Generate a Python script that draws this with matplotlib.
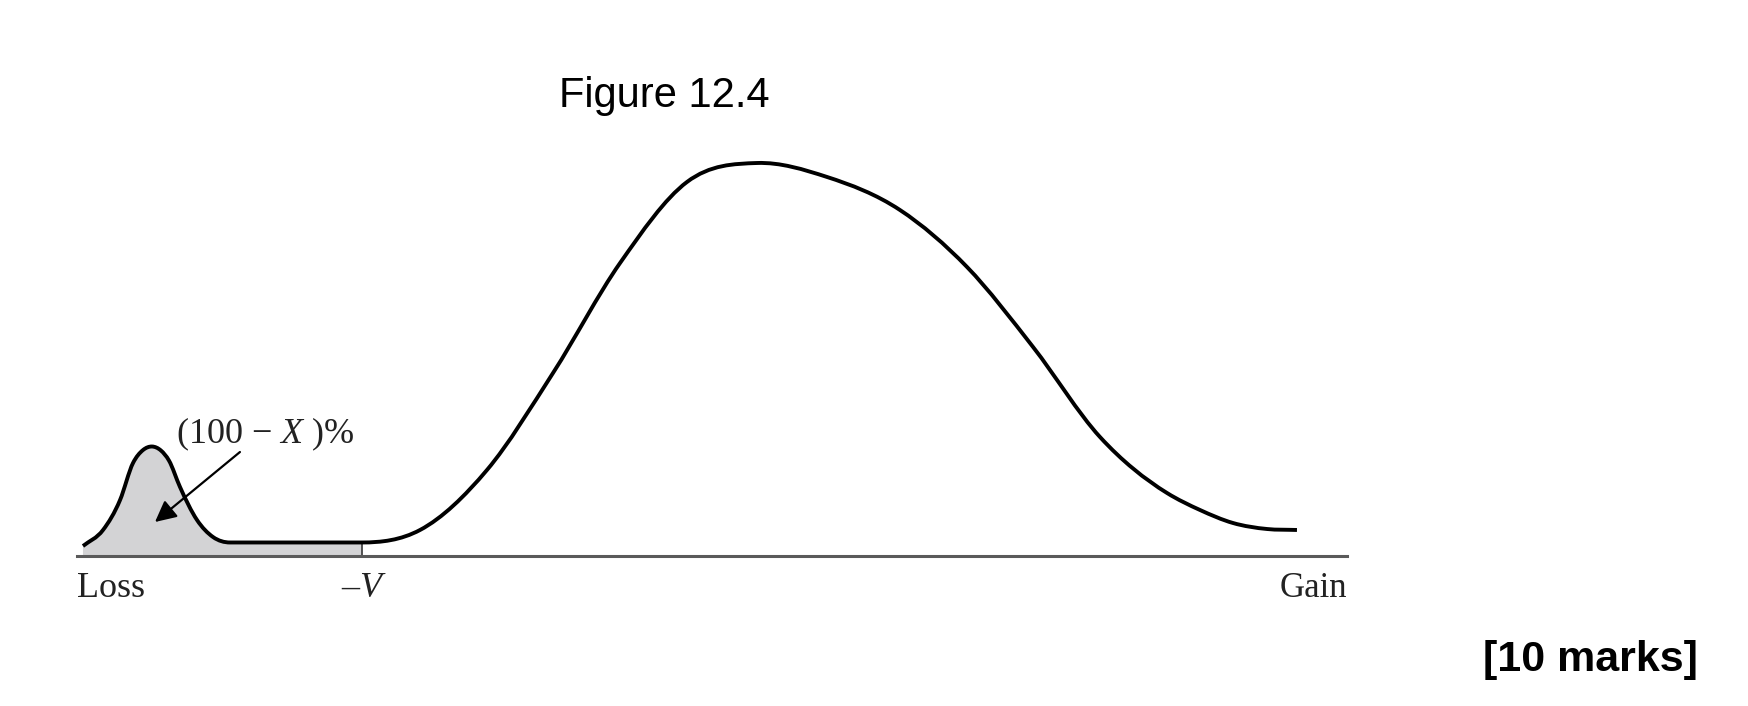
import matplotlib
matplotlib.use("Agg")
import matplotlib.pyplot as plt
from matplotlib.path import Path
from matplotlib.patches import PathPatch

plt.rcParams['mathtext.fontset'] = 'custom'
plt.rcParams['mathtext.rm'] = 'Liberation Serif'
plt.rcParams['mathtext.it'] = 'Liberation Serif:italic'

# Outcome axis (0 = far loss, 100 = far gain) and density (peak = 100)
outcome = [0.47, 2.05, 3.39, 4.41, 5.20, 5.91, 6.61, 7.24, 8.11, 9.45, 10.71, 12.05,
           15.20, 19.92, 22.44, 27.01, 32.28, 37.48, 42.76, 48.03, 53.54,
           59.06, 64.80, 70.08, 75.28, 80.55, 85.83, 88.43, 91.02, 93.70, 96.06]
density = [2.54, 6.62, 14.25, 23.66, 26.97, 27.86, 26.84, 24.30, 17.56, 9.16, 4.83, 3.44,
           3.44, 3.44, 3.44, 6.62, 21.88, 46.56, 74.55, 95.17, 100.0,
           96.44, 88.04, 73.54, 53.18, 30.28, 16.03, 11.70, 8.40, 6.87, 6.62]
var_level = 22.44          # position of -V on the outcome axis
tail_label = "(100 \u2212 $X$ )%"
axis_labels = ["Loss", "\u2013$V$", "Gain"]
title = "Figure 12.4"
marks = "[10 marks]"


def smooth_path(xs, ys):
    """Bezier path through the read points (cubic Hermite, 3-point tangents)."""
    n = len(xs)
    h = [xs[i + 1] - xs[i] for i in range(n - 1)]
    d = [(ys[i + 1] - ys[i]) / h[i] for i in range(n - 1)]
    m = [0.0] * n
    m[0], m[-1] = d[0], d[-1]
    for i in range(1, n - 1):
        if d[i - 1] == 0 or d[i] == 0:
            m[i] = 0.0
        else:
            m[i] = (h[i - 1] * d[i] + h[i] * d[i - 1]) / (h[i - 1] + h[i])
    verts = [(xs[0], ys[0])]
    codes = [Path.MOVETO]
    for i in range(n - 1):
        verts += [(xs[i] + h[i] / 3, ys[i] + m[i] * h[i] / 3),
                  (xs[i + 1] - h[i] / 3, ys[i + 1] - m[i + 1] * h[i] / 3),
                  (xs[i + 1], ys[i + 1])]
        codes += [Path.CURVE4] * 3
    return verts, codes


W, H = 1749, 706
fig = plt.figure(figsize=(W / 100, H / 100), dpi=100)
ax = fig.add_axes([77 / W, (H - 556) / H, (1347 - 77) / W, (556 - 163) / H])
ax.set_xlim(0, 100)
ax.set_ylim(0, 100)

# shaded tail left of -V
tail_x = [x for x in outcome if x <= var_level]
tail_y = [y for x, y in zip(outcome, density) if x <= var_level]
tv, tc = smooth_path(tail_x, tail_y)
tv = tv + [(tail_x[-1], 0), (tail_x[0], 0), tv[0]]
tc = tc + [Path.LINETO, Path.LINETO, Path.CLOSEPOLY]
ax.add_patch(PathPatch(Path(tv, tc), facecolor='#d3d3d5', edgecolor='none', zorder=1))
ax.vlines(var_level, 0, tail_y[-1], color='#444444', lw=1.3, zorder=2)

cv, cc = smooth_path(outcome, density)
ax.add_patch(PathPatch(Path(cv, cc), facecolor='none', edgecolor='black', lw=2.8,
                       capstyle='butt', joinstyle='round', zorder=3, clip_on=False))

for s in ['top', 'right', 'left']:
    ax.spines[s].set_visible(False)
ax.spines['bottom'].set_color('#5a5a5a')
ax.spines['bottom'].set_linewidth(2.2)
ax.set_xticks([])
ax.set_yticks([])
ax.patch.set_alpha(0)

serif = 'Liberation Serif'
ax.text(7.8, 28.75, tail_label, ha='left', va='baseline', fontsize=26,
        family=serif, color='#222222')
ax.annotate('', xy=(6.14, 8.65), xytext=(12.83, 26.46),
            arrowprops=dict(arrowstyle='-|>', color='black', lw=1.6,
                            mutation_scale=32, shrinkA=0, shrinkB=0))

ax.text(0, -10.43, axis_labels[0], ha='left', va='baseline', fontsize=26,
        family=serif, color='#222222', clip_on=False)
ax.text(22.6, -10.43, axis_labels[1], ha='center', va='baseline', fontsize=26,
        family=serif, color='#222222', clip_on=False)
ax.text(100, -10.43, axis_labels[2], ha='right', va='baseline', fontsize=25,
        family=serif, color='#222222', clip_on=False)

fig.text(664 / W, (H - 107) / H, title, ha='center', va='baseline', fontsize=30,
         family='Liberation Sans', color='black')
fig.text(1698 / W, (H - 671) / H, marks, ha='right', va='baseline', fontsize=31,
         family='Liberation Sans', fontweight='bold', color='black')

fig.savefig('out.png', dpi=100, facecolor='white')
